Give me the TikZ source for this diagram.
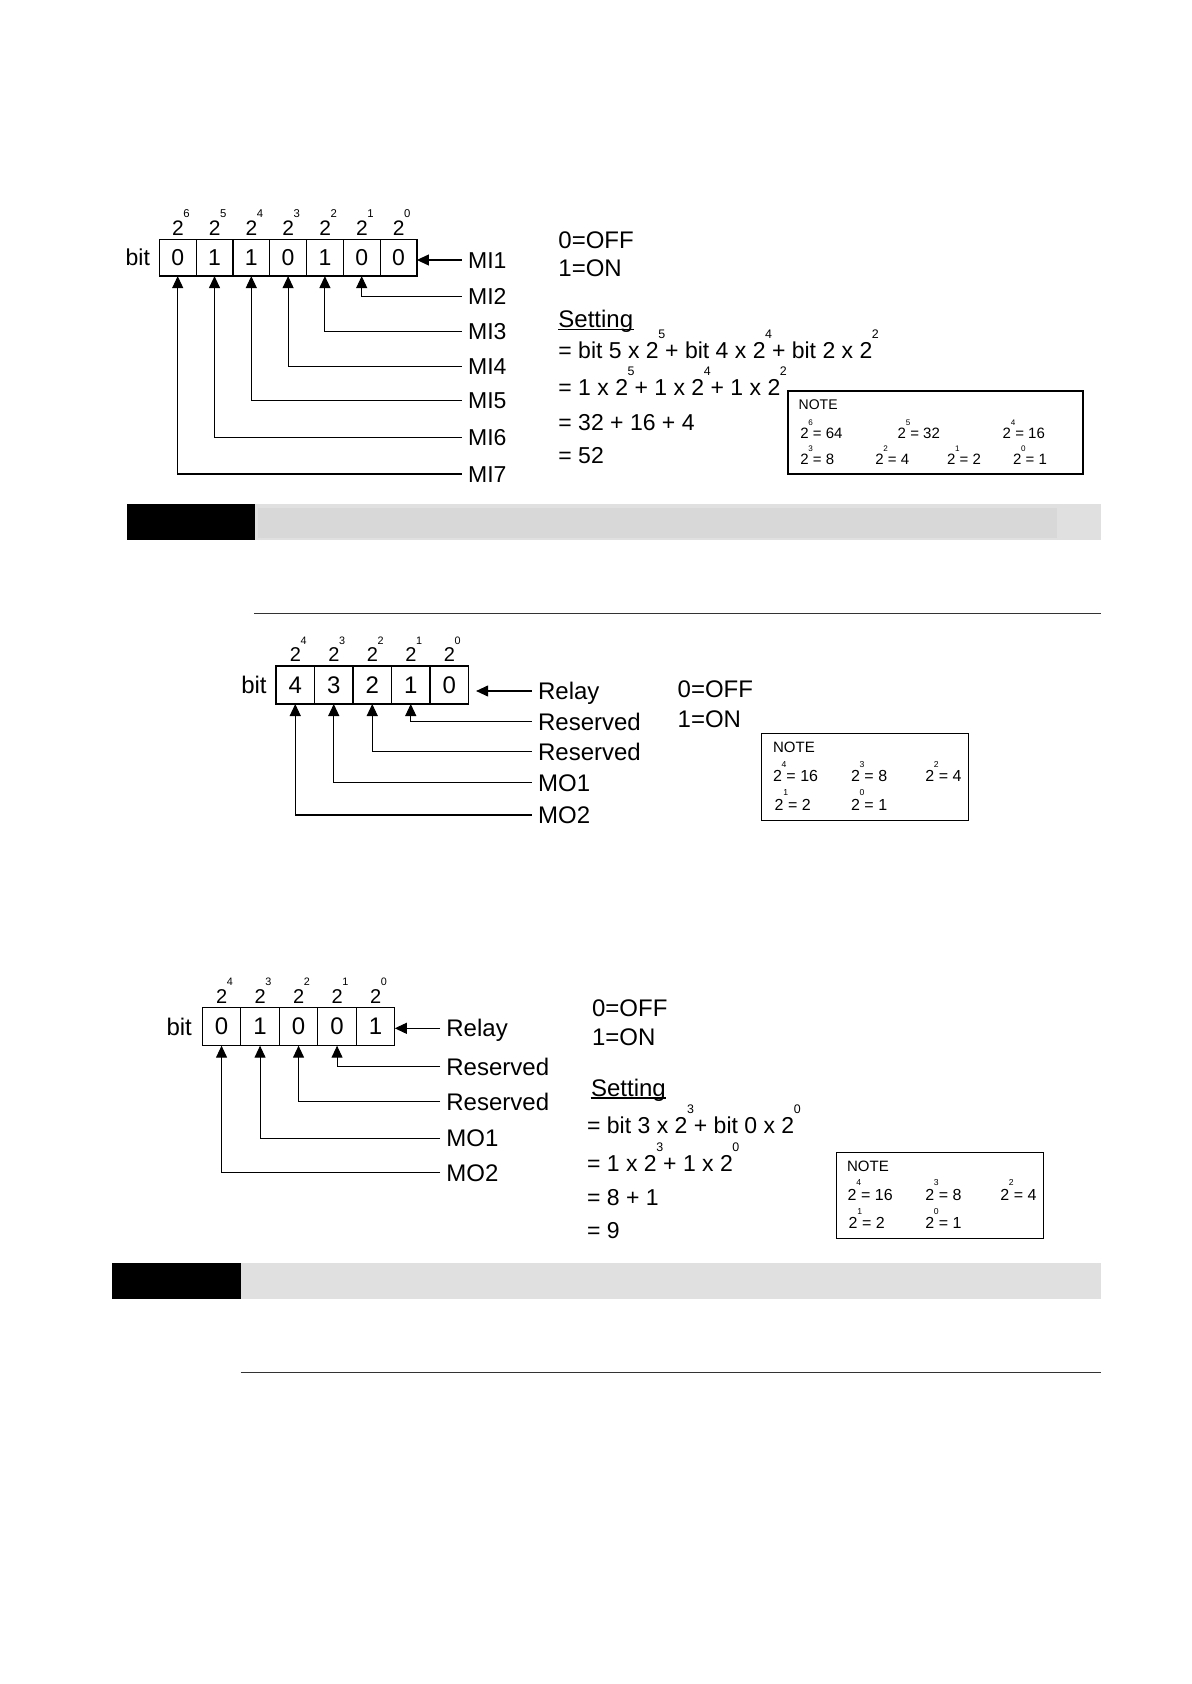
\documentclass[tikz,border=0pt]{standalone}
\usepackage{fontspec}
\setmainfont{Liberation Sans}
\usepackage{tikz}
\usetikzlibrary{positioning, arrows.meta}
\definecolor{barlight}{HTML}{E0E0E0}
\definecolor{bardark}{HTML}{D8D8D8}
\definecolor{rulegray}{HTML}{333333}
\makeatletter
\newcommand{\sps}[1]{\kern-0.02em\rlap{\raisebox{0.88em}{\fontsize{\fpeval{0.54*\f@size}}{1}\selectfont #1}}}
\makeatother
\newcommand{\ex}[1]{\sps{#1}\kern0.3em}

\begin{document}
\begin{tikzpicture}[
  x=0.5pt, y=-0.5pt,
  cell/.style={draw, line width=0.6pt, minimum width=19.25pt, minimum height=19pt,
    inner sep=0pt, outer sep=0pt, font=\fontsize{12}{14}\selectfont},
  cella/.style={cell, minimum width=18.4pt, minimum height=18.4pt,
    font=\fontsize{11.5}{13}\selectfont},
  pow/.style={inner sep=0pt, font=\fontsize{10}{12}\selectfont},
  powa/.style={pow, font=\fontsize{10.5}{12}\selectfont},
  bitl/.style={inner sep=0pt, font=\fontsize{12}{14}\selectfont},
  lab/.style={anchor=west, inner sep=3pt, text height=8.5pt, text depth=0pt,
    font=\fontsize{12}{14}\selectfont},
  laba/.style={lab, text height=8.2pt, font=\fontsize{11.5}{13}\selectfont},
  arr/.style={-{Triangle[length=6pt, width=5.5pt]}, line width=0.55pt},
  txt/.style={anchor=base west, inner sep=0pt, font=\fontsize{12}{14}\selectfont},
  eqn/.style={txt, font=\fontsize{11.5}{14}\selectfont},
  note/.style={draw, line width=0.6pt, inner sep=0pt},
  ntxt/.style={txt, font=\fontsize{8}{10}\selectfont},
  ntxta/.style={txt, font=\fontsize{7.5}{9}\selectfont},
  nhead/.style={txt, font=\fontsize{7.5}{9}\selectfont},
]
\useasboundingbox (0,0) rectangle (1191,1684);

% Input bits
\node[cella] (a6) at (177.7,257.7) {0};
\node[cella, right=0pt of a6] (a5) {1};
\node[cella, right=0pt of a5] (a4) {1};
\node[cella, right=0pt of a4] (a3) {0};
\node[cella, right=0pt of a3] (a2) {1};
\node[cella, right=0pt of a2] (a1) {0};
\node[cella, right=0pt of a1] (a0) {0};
\node[bitl, font=\fontsize{11.5}{13}\selectfont, left=4.5pt of a6] (abit) {bit};

\node[powa, above=1.5pt of a6] (pa6) {2\sps{6}};
\node[powa, above=1.5pt of a5] (pa5) {2\sps{5}};
\node[powa, above=1.5pt of a4] (pa4) {2\sps{4}};
\node[powa, above=1.5pt of a3] (pa3) {2\sps{3}};
\node[powa, above=1.5pt of a2] (pa2) {2\sps{2}};
\node[powa, above=1.5pt of a1] (pa1) {2\sps{1}};
\node[powa, above=1.5pt of a0] (pa0) {2\sps{0}};

\node[laba] (mi1) at (461.7,260) {MI1};
\node[laba] (mi2) at (461.7,296.7) {MI2};
\node[laba] (mi3) at (461.7,331.7) {MI3};
\node[laba] (mi4) at (461.7,366.7) {MI4};
\node[laba] (mi5) at (461.7,400.7) {MI5};
\node[laba] (mi6) at (461.7,437.3) {MI6};
\node[laba] (mi7) at (461.7,474) {MI7};

\draw[arr] (mi1.west) -- (mi1.west -| a0.east);
\draw[arr] (mi2.west) -| (a1.south);
\draw[arr] (mi3.west) -| (a2.south);
\draw[arr] (mi4.west) -| (a3.south);
\draw[arr] (mi5.west) -| (a4.south);
\draw[arr] (mi6.west) -| (a5.south);
\draw[arr] (mi7.west) -| (a6.south);

\node[txt] (off1) at (558,248.3) {0=OFF};
\node[txt] (on1) at (558,276.7) {1=ON};
\node[txt] (set1) at (558,327.3) {Setting};
\draw[line width=0.6pt] ([yshift=-1pt]set1.base west) -- ([yshift=-1pt]set1.base east);
\node[eqn] (eq1a) at (558,359) {= bit 5 x 2\ex{5} + bit 4 x 2\ex{4} + bit 2 x 2\ex{2}};
\node[eqn] (eq1b) at (558,395.7) {= 1 x 2\ex{5}+ 1 x 2\ex{4}+ 1 x 2\ex{2}};
\node[eqn] (eq1c) at (558,430) {= 32 + 16 + 4};
\node[eqn] (eq1d) at (558,463.3) {= 52};

\node[note, minimum width=147.5pt, minimum height=41.5pt] (note1) at (935.5,432.5) {};
\node[nhead, font=\fontsize{7}{8}\selectfont] (nh1) at (798.3,410) {NOTE};
\node[ntxta] (n1a) at (800,438.3) {2\ex{6}= 64};
\node[ntxta] (n1b) at (897.3,438.3) {2\ex{5}= 32};
\node[ntxta] (n1c) at (1002.3,438.3) {2\ex{4}= 16};
\node[ntxta] (n1d) at (800,465) {2\ex{3}= 8};
\node[ntxta] (n1e) at (875,465) {2\ex{2}= 4};
\node[ntxta] (n1f) at (946.7,465) {2\ex{1}= 2};
\node[ntxta] (n1g) at (1012.7,465) {2\ex{0}= 1};

% Section bar
\fill (127,504) rectangle (255,540);
\fill[barlight] (255,504) rectangle (1101,540);
\fill[bardark] (258,507.7) rectangle (1057,538.3);
\draw[rulegray, line width=0.8pt] (254,613.3) -- (1101,613.3);

% Output bits
\node[cell] (b4) at (295.25,685) {4};
\node[cell, right=0pt of b4] (b3) {3};
\node[cell, right=0pt of b3] (b2) {2};
\node[cell, right=0pt of b2] (b1) {1};
\node[cell, right=0pt of b1] (b0) {0};
\node[bitl, left=4.5pt of b4] (bbit) {bit};

\node[pow, above=2pt of b4] (pb4) {2\sps{4}};
\node[pow, above=2pt of b3] (pb3) {2\sps{3}};
\node[pow, above=2pt of b2] (pb2) {2\sps{2}};
\node[pow, above=2pt of b1] (pb1) {2\sps{1}};
\node[pow, above=2pt of b0] (pb0) {2\sps{0}};

\node[lab] (rl2) at (531.7,691) {Relay};
\node[lab] (rs2a) at (531.7,721.7) {Reserved};
\node[lab] (rs2b) at (531.7,751.7) {Reserved};
\node[lab] (mo2a) at (531.7,782.7) {MO1};
\node[lab] (mo2b) at (531.7,815) {MO2};

\draw[arr, shorten >=3.8pt] (rl2.west) -- (rl2.west -| b0.east);
\draw[arr] (rs2a.west) -| (b1.south);
\draw[arr] (rs2b.west) -| (b2.south);
\draw[arr] (mo2a.west) -| (b3.south);
\draw[arr] (mo2b.west) -| (b4.south);

\node[txt] (off2) at (677.3,697.7) {0=OFF};
\node[txt] (on2) at (677.3,727.7) {1=ON};

\node[note, minimum width=103.3pt, minimum height=43.3pt] (note2) at (865,777) {};
\node[nhead] (nh2) at (772.7,752.3) {NOTE};
\node[ntxt] (n2a) at (772.7,781.7) {2\ex{4}= 16};
\node[ntxt] (n2b) at (850.7,781.7) {2\ex{3}= 8};
\node[ntxt] (n2c) at (925,781.7) {2\ex{2}= 4};
\node[ntxt] (n2d) at (774.3,810) {2\ex{1}= 2};
\node[ntxt] (n2e) at (850.7,810) {2\ex{0}= 1};

% Output example
\node[cell] (c4) at (221.55,1026.7) {0};
\node[cell, right=0pt of c4] (c3) {1};
\node[cell, right=0pt of c3] (c2) {0};
\node[cell, right=0pt of c2] (c1) {0};
\node[cell, right=0pt of c1] (c0) {1};
\node[bitl, left=5pt of c4] (cbit) {bit};

\node[pow, above=2pt of c4] (pc4) {2\sps{4}};
\node[pow, above=2pt of c3] (pc3) {2\sps{3}};
\node[pow, above=2pt of c2] (pc2) {2\sps{2}};
\node[pow, above=2pt of c1] (pc1) {2\sps{1}};
\node[pow, above=2pt of c0] (pc0) {2\sps{0}};

\node[lab] (rl3) at (440,1028.3) {Relay};
\node[lab] (rs3a) at (440,1066.7) {Reserved};
\node[lab] (rs3b) at (440,1101.7) {Reserved};
\node[lab] (mo3a) at (440,1138.3) {MO1};
\node[lab] (mo3b) at (440,1172.7) {MO2};

\draw[arr] (rl3.west) -- (rl3.west -| c0.east);
\draw[arr] (rs3a.west) -| (c1.south);
\draw[arr] (rs3b.west) -| (c2.south);
\draw[arr] (mo3a.west) -| (c3.south);
\draw[arr] (mo3b.west) -| (c4.south);

\node[txt] (off3) at (591.7,1016) {0=OFF};
\node[txt] (on3) at (591.7,1045) {1=ON};
\node[txt] (set3) at (590.7,1096) {Setting};
\draw[line width=0.6pt] ([yshift=-1pt]set3.base west) -- ([yshift=-1pt]set3.base east);
\node[eqn] (eq3a) at (586.7,1133.3) {= bit 3 x 2\ex{3} + bit 0 x 2\ex{0}};
\node[eqn] (eq3b) at (586.7,1171.7) {= 1 x 2\ex{3}+ 1 x 2\ex{0}};
\node[eqn] (eq3c) at (586.7,1205) {= 8 + 1};
\node[eqn] (eq3d) at (586.7,1238.3) {= 9};

\node[note, minimum width=103.3pt, minimum height=42.8pt] (note3) at (940,1195.5) {};
\node[nhead] (nh3) at (846.7,1171) {NOTE};
\node[ntxt] (n3a) at (847.3,1200) {2\ex{4}= 16};
\node[ntxt] (n3b) at (925,1200) {2\ex{3}= 8};
\node[ntxt] (n3c) at (1000,1200) {2\ex{2}= 4};
\node[ntxt] (n3d) at (848.3,1228.3) {2\ex{1}= 2};
\node[ntxt] (n3e) at (925,1228.3) {2\ex{0}= 1};

% Section bar
\fill (111.8,1262.7) rectangle (240.5,1299);
\fill[barlight] (240.5,1262.7) rectangle (1101,1299);
\draw[rulegray, line width=0.8pt] (240.5,1372.3) -- (1101,1372.3);

\end{tikzpicture}
\end{document}
